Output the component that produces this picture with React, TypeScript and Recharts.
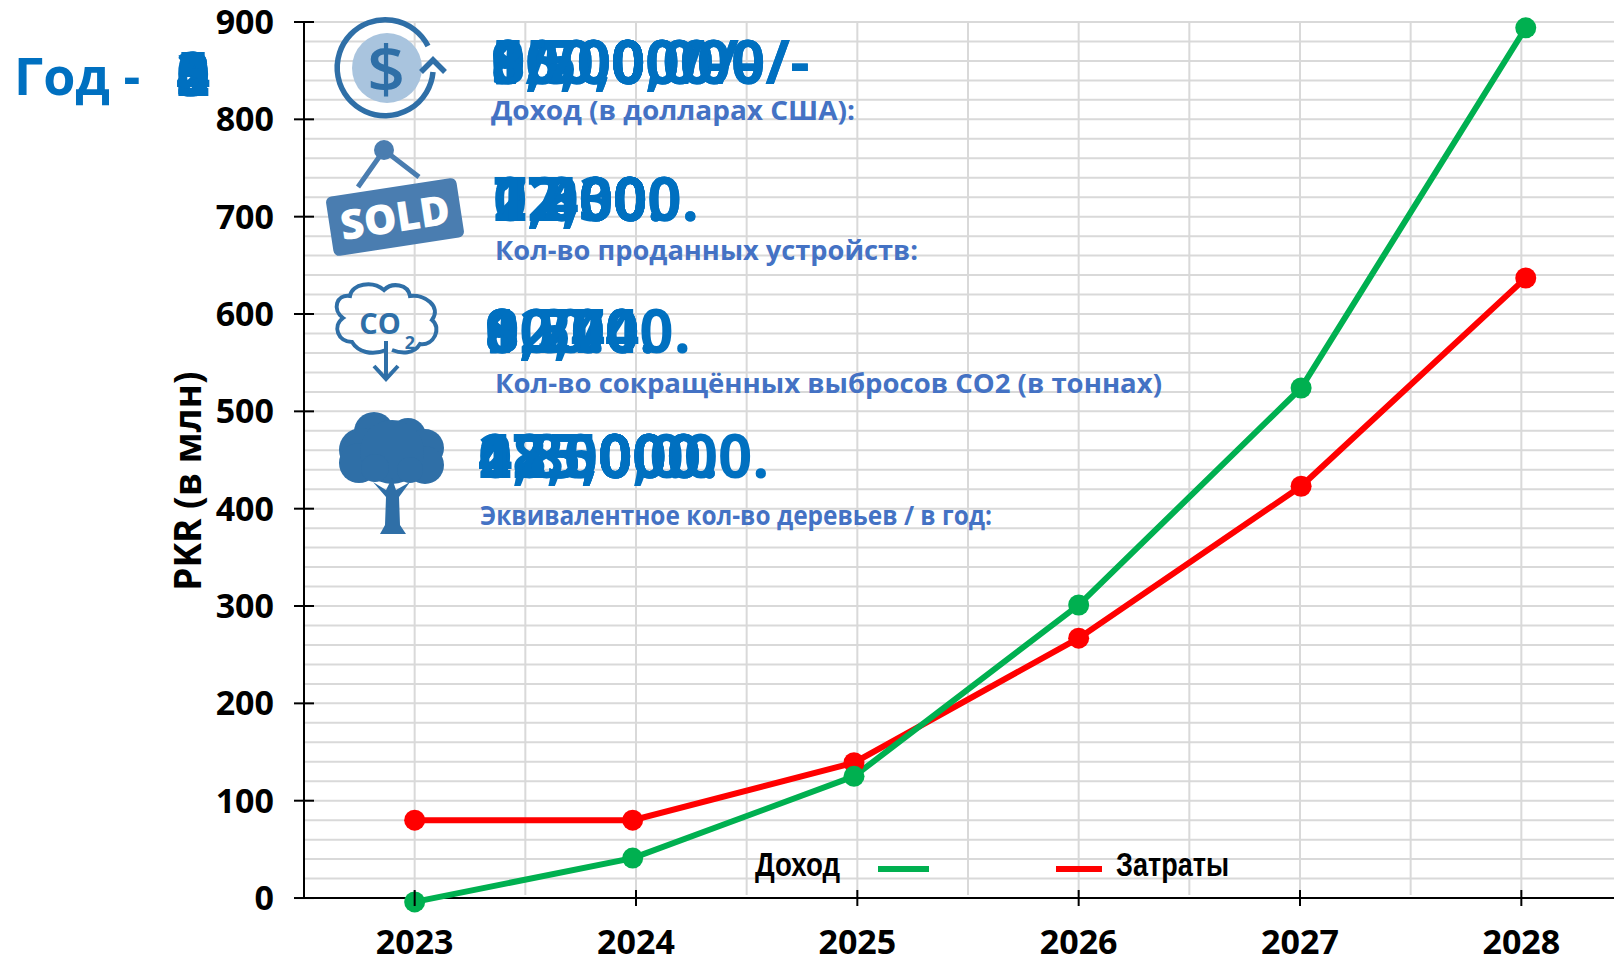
import { ComposedChart, CartesianGrid, Line, ReferenceLine, XAxis, YAxis } from "recharts";

const years = [2023, 2024, 2025, 2026, 2027, 2028];
// markers sit slightly off the ticks in the original
const pointX = [2023, 2023.985, 2024.985, 2026, 2027.005, 2028.02];
const revenue = [-4, 41, 125, 301, 524, 894];
const costs = [80, 80, 139, 267, 423, 637];
const yTicks = [0, 100, 200, 300, 400, 500, 600, 700, 800, 900];
const minorY = [20, 40, 60, 80, 120, 140, 160, 180, 220, 240, 260, 280, 320, 340, 360, 380, 420, 440, 460, 480, 520, 540, 560, 580, 620, 640, 660, 680, 720, 740, 760, 780, 820, 840, 860, 880];
const minorX = [2023, 2023.5, 2024, 2024.5, 2025, 2025.5, 2026, 2026.5, 2027, 2027.5, 2028, 2028.5];

const yearFrames = ["0", "1", "2", "3", "4", "5"];
const revenueFrames = ["0/-", "50,000/-", "150,000/-", "900,000/-", "1,500,000/-", "8,700,000/-"];
const soldFrames = ["0.", "1,000.", "2,400.", "7,800.", "12,000.", "17,300."];
const co2Frames = ["0.", "800.", "1,700.", "9,200.", "12,700.", "8,544."];
const treeFrames = ["0.", "47,000.", "125,000.", "285,000.", "475,000.", "1,850,000."];

const chartData = years.map((year, i) => ({ year, x: pointX[i], revenue: revenue[i], costs: costs[i] }));

const FONT = "'Open Sans', sans-serif";
const BLUE = "#0070C0";
const LABEL = "#4472C4";
const ICON = "#2F6FA7";
const GRID = "#D9D9D9";
const ZERO_OFFSET = 19.5; // px between the y=0 line and the bottom of the plot
const TICK_GAP = 8; // recharts hands custom ticks a position already moved off the axis

function YTick({ x, y, payload }: any) {
  const axisX = x + TICK_GAP;
  return (
    <g>
      <line x1={axisX - 10} x2={axisX + 10} y1={y} y2={y} stroke="#000" strokeWidth={2} />
      <text x={axisX - 30} y={y + 12} textAnchor="end" fontFamily={FONT} fontWeight={700} fontSize={34} fill="#000">
        {payload.value}
      </text>
    </g>
  );
}

function XTick({ x, y, payload }: any) {
  const axisY = y - TICK_GAP - ZERO_OFFSET;
  return (
    <g>
      <line x1={x} x2={x} y1={axisY - 8} y2={axisY + 8} stroke="#000" strokeWidth={2} />
      <text x={x} y={axisY + 56} textAnchor="middle" fontFamily={FONT} fontWeight={700} fontSize={34} fill="#000">
        {payload.value}
      </text>
    </g>
  );
}

function Frames({ items, x, y }: { items: string[]; x: number; y: number }) {
  return (
    <>
      {items.map((t) => (
        <text key={t} x={x} y={y} fontFamily={FONT} fontWeight={700} fontSize={60} fill={BLUE}>
          {t}
        </text>
      ))}
    </>
  );
}

function Caption({ text, x, y, width }: { text: string; x: number; y: number; width: number }) {
  return (
    <text x={x} y={y} fontFamily={FONT} fontWeight={700} fontSize={27} fill={LABEL} textLength={width} lengthAdjust="spacingAndGlyphs">
      {text}
    </text>
  );
}

function Icons() {
  return (
    <g>
      {/* dollar */}
      <circle cx={387} cy={68} r={35} fill="#A9C4DE" />
      <path d="M428 46 A48 48 0 1 0 433 72" fill="none" stroke={ICON} strokeWidth={5.5} />
      <path d="M421 72 L433 60 L445 72" fill="none" stroke={ICON} strokeWidth={5.5} />
      <text x={386} y={92} textAnchor="middle" fontFamily={FONT} fontWeight={600} fontSize={66} fill={ICON}>$</text>
      {/* sold sign */}
      <circle cx={384} cy={150} r={10} fill="#4A7DB0" />
      <path d="M358 187 L384 150 L419 177" fill="none" stroke="#4A7DB0" strokeWidth={5} />
      <g transform="rotate(-8.7 395 217)">
        <rect x={329} y={187} width={132} height={60} rx={6} fill="#4A7DB0" />
        <text x={395} y={232} textAnchor="middle" fontFamily={FONT} fontWeight={800} fontSize={41} fill="#fff">SOLD</text>
      </g>
      {/* co2 cloud */}
      <path
        d="M386 350 C372 356 358 352 352 342 C338 342 332 326 343 318 C332 310 336 294 350 296 C352 284 372 280 384 290 C392 282 408 284 410 296 C424 294 442 306 432 320 C442 328 434 346 420 344 C414 354 402 354 392 350"
        fill="none"
        stroke={ICON}
        strokeWidth={4}
      />
      <text x={380} y={334} textAnchor="middle" fontFamily={FONT} fontWeight={700} fontSize={29} fill={ICON}>CO</text>
      <text x={410} y={349} textAnchor="middle" fontFamily={FONT} fontWeight={700} fontSize={18} fill={ICON}>2</text>
      <path d="M386 341 L386 379 M374 366 L386 379 L398 366" fill="none" stroke={ICON} strokeWidth={4} />
      {/* tree */}
      <g fill={ICON}>
        <circle cx={374} cy={432} r={20} />
        <circle cx={408} cy={436} r={18} />
        <circle cx={361} cy={450} r={22} />
        <circle cx={425} cy={448} r={19} />
        <circle cx={359} cy={463} r={20} />
        <circle cx={425} cy={465} r={19} />
        <circle cx={392} cy={452} r={32} />
        <circle cx={375} cy={468} r={14} />
        <circle cx={410} cy={470} r={13} />
        <path d="M373 482 L386 497 L385 525 L380 534 L406 534 L400 525 L399 497 L410 482 L396 490 L392 478 L386 490 Z" />
      </g>
    </g>
  );
}

export default function App() {
  return (
    <div style={{ position: "absolute", left: 0, top: 0, width: 1614, height: 959, overflow: "hidden", background: "#fff" }}>
      <ComposedChart width={1632} height={959} data={chartData} margin={{ top: 22, right: 0, bottom: 0, left: 0 }}>
        <CartesianGrid vertical={false} stroke={GRID} strokeWidth={2} horizontalValues={[...minorY, ...yTicks.slice(1)]} />
        {minorX.map((v) => (
          <ReferenceLine key={v} segment={[{ x: v, y: 3 }, { x: v, y: 900 }]} stroke={GRID} strokeWidth={2} />
        ))}
        <XAxis
          dataKey="x"
          type="number"
          domain={[2022.5, 2028.5]}
          ticks={years}
          interval={0}
          height={41.5}
          axisLine={false}
          tickLine={false}
          tick={<XTick />}
        />
        <YAxis
          type="number"
          domain={[-20, 900]}
          ticks={yTicks}
          interval={0}
          width={304}
          axisLine={false}
          tickLine={false}
          tick={<YTick />}
          label={{
            value: "PKR (в млн)",
            angle: -90,
            position: "insideLeft",
            offset: 188,
            dy: 121,
            style: { fontFamily: FONT, fontWeight: 700, fontSize: 37, fill: "#000" },
          }}
        />
        <ReferenceLine y={0} stroke="#000" strokeWidth={2} />
        <ReferenceLine segment={[{ x: 2022.5, y: -1 }, { x: 2022.5, y: 900 }]} stroke="#000" strokeWidth={2} />
        <Line dataKey="costs" name="Затраты" stroke="#FF0000" strokeWidth={6} dot={{ r: 10.5, fill: "#FF0000", stroke: "none" }} isAnimationActive={false} />
        <Line dataKey="revenue" name="Доход" stroke="#00B050" strokeWidth={6} dot={{ r: 10.5, fill: "#00B050", stroke: "none" }} isAnimationActive={false} />
      </ComposedChart>

      {/* text and pictures laid over the plot in the original */}
      <svg width={1614} height={959} style={{ position: "absolute", left: 0, top: 0, pointerEvents: "none" }}>
        <Icons />
        <text x={14} y={95} fontFamily={FONT} fontWeight={700} fontSize={52} fill={BLUE}>Год -</text>
        <Frames items={yearFrames} x={176} y={96} />
        <Frames items={revenueFrames} x={491} y={84} />
        <Frames items={soldFrames} x={493} y={221} />
        <Frames items={co2Frames} x={485} y={353} />
        <Frames items={treeFrames} x={478} y={478} />
        <Caption text="Доход (в долларах США):" x={491} y={120} width={364} />
        <Caption text="Кол-во проданных устройств:" x={495} y={260} width={423} />
        <Caption text="Кол-во сокращённых выбросов СО2 (в тоннах)" x={495} y={393} width={667} />
        <Caption text="Эквивалентное кол-во деревьев / в год:" x={480} y={525} width={512} />

        <text x={755} y={876} fontFamily="'Liberation Sans Narrow', 'Liberation Sans', sans-serif" fontWeight={700} fontSize={33} fill="#000" textLength={85} lengthAdjust="spacingAndGlyphs">Доход</text>
        <line x1={878} x2={929} y1={869} y2={869} stroke="#00B050" strokeWidth={6} />
        <line x1={1056} x2={1102} y1={869} y2={869} stroke="#FF0000" strokeWidth={6} />
        <text x={1116} y={876} fontFamily="'Liberation Sans Narrow', 'Liberation Sans', sans-serif" fontWeight={700} fontSize={33} fill="#000" textLength={113} lengthAdjust="spacingAndGlyphs">Затраты</text>
      </svg>
    </div>
  );
}
